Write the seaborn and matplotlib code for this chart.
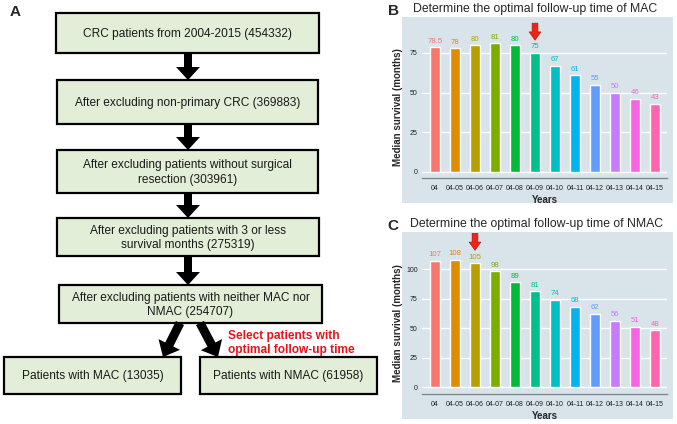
import matplotlib
matplotlib.use('Agg')
import matplotlib.pyplot as plt
import seaborn as sns
import pandas as pd
from matplotlib.patches import Rectangle, FancyArrow

sns.set_style('white')
plt.rcParams['font.family'] = ['Liberation Sans', 'DejaVu Sans']

# --- datos ---
years = ['04', '04-05', '04-06', '04-07', '04-08', '04-09', '04-10',
         '04-11', '04-12', '04-13', '04-14', '04-15']
mac_surv = [78.5, 78, 80, 81, 80, 75, 67, 61, 55, 50, 46, 43]
nmac_surv = [107, 108, 105, 98, 89, 81, 74, 68, 62, 56, 51, 48]
mac_best = '04-09'
nmac_best = '04-06'

box_texts = [
    'CRC patients from 2004-2015 (454332)',
    'After excluding non-primary CRC (369883)',
    'After excluding patients without surgical\nresection (303961)',
    'After excluding patients with 3 or less\nsurvival months (275319)',
    'After excluding patients with neither MAC nor\nNMAC (254707)',
    'Patients with MAC (13035)',
    'Patients with NMAC (61958)',
]
select_text = 'Select patients with\noptimal follow-up time'

palette = ['#F8766D', '#DE8C00', '#B79F00', '#7CAE00', '#00BA38', '#00C08B',
           '#00BFC4', '#00B4F0', '#619CFF', '#C77CFF', '#F564E3', '#FF64B0']

W, H = 677, 424
fig = plt.figure(figsize=(W / 100, H / 100), dpi=100)

# lienzo en pixeles para el diagrama de flujo y los fondos
canvas = fig.add_axes([0, 0, 1, 1], zorder=0)
canvas.set_xlim(0, W)
canvas.set_ylim(H, 0)
canvas.axis('off')

# cajas (x0, y0, x1, y1) en pixeles
boxes = [(56, 13, 319, 53), (57, 80, 318, 124), (57, 150, 318, 193),
         (57, 218, 319, 256), (59, 285, 322, 323),
         (4, 357, 181, 394), (200, 357, 377, 394)]
for (x0, y0, x1, y1), txt in zip(boxes, box_texts):
    canvas.add_patch(Rectangle((x0, y0), x1 - x0, y1 - y0, facecolor='#e3eed8',
                               edgecolor='black', lw=1.6))
    canvas.text((x0 + x1) / 2, (y0 + y1) / 2 + 1, txt, ha='center', va='center',
                fontsize=8.6, linespacing=1.25, color='#1a1a1a')

# flechas negras
for (ya, yb) in [(53, 80), (124, 150), (193, 218), (256, 285)]:
    canvas.add_patch(FancyArrow(188, ya, 0, yb - ya, width=8, head_width=24,
                                head_length=13, length_includes_head=True,
                                color='black', lw=0))
for (xa, xb) in [(180, 163), (200, 218)]:
    canvas.add_patch(FancyArrow(xa, 323, xb - xa, 357 - 323, width=9, head_width=24,
                                head_length=14, length_includes_head=True,
                                color='black', lw=0))

canvas.text(228, 343, select_text, ha='left', va='center', fontsize=8.6,
            fontweight='bold', color='#e8121b', linespacing=1.2)

# etiquetas de panel
canvas.text(10, 12, 'A', fontsize=11, fontweight='bold', ha='left', va='center')
canvas.text(388, 11, 'B', fontsize=11, fontweight='bold', ha='left', va='center')
canvas.text(387, 226, 'C', fontsize=11, fontweight='bold', ha='left', va='center')

# fondos de los paneles
bg = '#d8e3ea'
canvas.add_patch(Rectangle((402, 17), 271, 186, facecolor=bg, lw=0))
canvas.add_patch(Rectangle((402, 232), 271, 187, facecolor=bg, lw=0))

canvas.text(535, 9, 'Determine the optimal follow-up time of MAC',
            ha='center', va='center', fontsize=8.8)
canvas.text(537, 224, 'Determine the optimal follow-up time of NMAC',
            ha='center', va='center', fontsize=8.8)


def bar_panel(rect, values, best, ylim, yticks):
    ax = fig.add_axes(rect, zorder=1)
    ax.set_facecolor('none')
    df = pd.DataFrame({'Years': years, 'Surv': values})
    sns.barplot(data=df, x='Years', y='Surv', hue='Years', palette=palette,
                legend=False, width=0.5, ax=ax, saturation=1)
    ax.set_ylim(*ylim)
    ax.set_xlim(-0.65, 11.6)
    ax.set_yticks(yticks)
    ax.grid(axis='y', color='white', lw=1.0)
    ax.set_axisbelow(True)
    for s in ['top', 'right', 'left']:
        ax.spines[s].set_visible(False)
    ax.spines['bottom'].set_color('#7f8a90')
    ax.spines['bottom'].set_linewidth(1.0)
    ax.tick_params(axis='y', length=0, labelsize=5.0, pad=3, labelcolor='#222222')
    ax.tick_params(axis='x', length=2.5, width=0.8, color='#7f8a90',
                   labelsize=5.0, pad=2.5, labelcolor='#222222')
    for i, v in enumerate(values):
        ax.annotate(f'{v:g}', xy=(i, v), xytext=(0, 1.8), textcoords='offset points',
                    ha='center', va='bottom', fontsize=5.6, color=palette[i])
    bi = years.index(best)
    ax.annotate('', xy=(bi, values[bi]), xytext=(0, 21.5), textcoords='offset points',
                arrowprops=dict(arrowstyle='simple,head_length=0.6,head_width=0.85,tail_width=0.42',
                                fc='#ee2416', ec='#b01010', lw=0.4, shrinkA=0, shrinkB=9.2),
                annotation_clip=False)
    ax.set_xlabel('Years', fontsize=7, fontweight='bold', labelpad=2)
    ax.set_ylabel('Median survival (months)', fontsize=7, fontweight='bold')
    ax.yaxis.set_label_coords(-0.077, 0.45)
    return ax


axw = 245 / W
axh = 158 / H
bar_panel([422 / W, (H - 178) / H, axw, axh], mac_surv, mac_best,
          (-3.8, 95.8), [0, 25, 50, 75])
bar_panel([422 / W, (H - 394) / H, axw, axh], nmac_surv, nmac_best,
          (-5.9, 128), [0, 25, 50, 75, 100])

plt.savefig('out.png', dpi=100)
